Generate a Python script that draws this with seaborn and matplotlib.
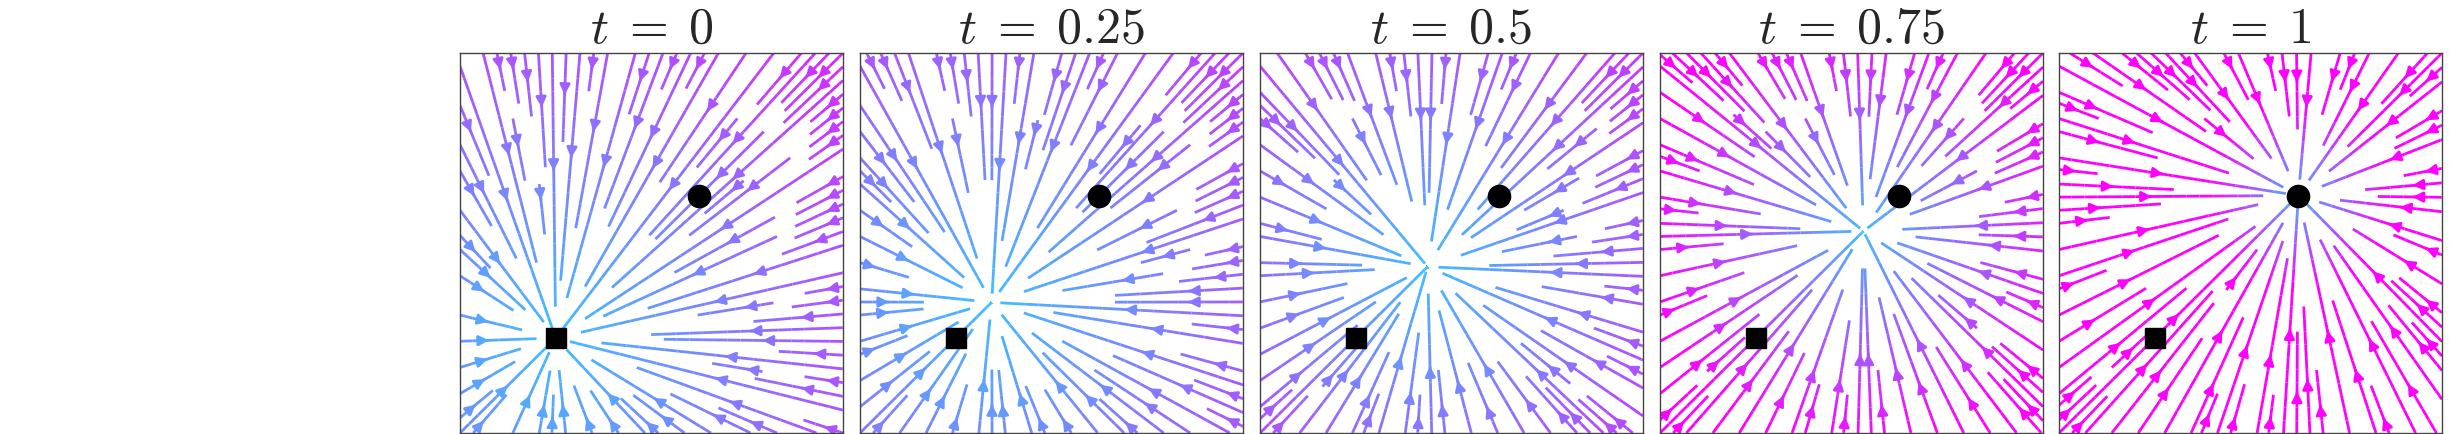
import numpy as np
import matplotlib
matplotlib.use("Agg")
import matplotlib.pyplot as plt
import seaborn as sns

sns.set_style("white")
plt.rcParams["mathtext.fontset"] = "cm"

times = [0, 0.25, 0.5, 0.75, 1]
titles = [r"$t\;=\;0$", r"$t\;=\;0.25$", r"$t\;=\;0.5$", r"$t\;=\;0.75$", r"$t\;=\;1$"]
square_pt = (0.25, 0.25)
circle_pt = (0.625, 0.625)
panel_left = [460, 860, 1260, 1660, 2059]

fig = plt.figure(figsize=(24.55, 4.34), dpi=100)
x = np.linspace(0, 1, 200)
X, Y = np.meshgrid(x, x)
norm = plt.Normalize(-0.4, 1.3)

for t, title, left in zip(times, titles, panel_left):
    ax = fig.add_axes([left / 2455, 1 / 434, 383 / 2455, 380 / 434])
    sx = (1 - t) * square_pt[0] + t * circle_pt[0]
    sy = (1 - t) * square_pt[1] + t * circle_pt[1]
    s = 1 + 4 * t ** 4
    U = s * (sx - X)
    V = s * (sy - Y)
    speed = np.hypot(U, V)
    ax.streamplot(X, Y, U, V, color=speed, cmap="cool", norm=norm,
                  density=1.0, linewidth=2.0, arrowsize=1.5)
    ax.plot(*circle_pt, "o", color="black", ms=16, zorder=5)
    ax.plot(*square_pt, "s", color="black", ms=14, zorder=5)
    ax.set_xlim(0, 1)
    ax.set_ylim(0, 1)
    ax.set_xticks([])
    ax.set_yticks([])
    for sp in ax.spines.values():
        sp.set_color("#444444")
        sp.set_linewidth(1.0)
    ax.set_title(title, fontsize=36, pad=6)

fig.savefig("out.png", dpi=100)
